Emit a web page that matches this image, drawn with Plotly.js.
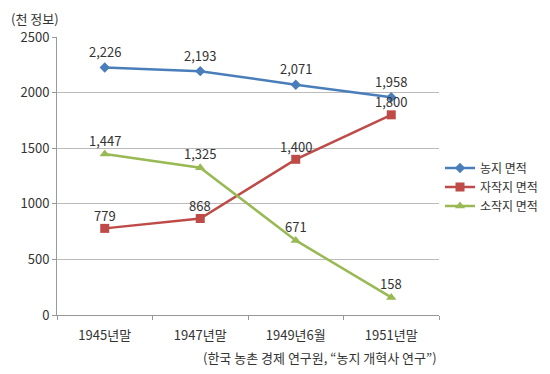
<!DOCTYPE html>
<html><head><meta charset="utf-8">
<script src="https://cdn.plot.ly/plotly-3.0.1.min.js"></script>
<style>html,body{margin:0;padding:0;background:#fff}</style>
</head><body>
<div id="chart" style="width:550px;height:374px"></div>
<script>
const categories = ["1945년말", "1947년말", "1949년6월", "1951년말"];
const farmland = [2226, 2193, 2071, 1958];
const owner = [779, 868, 1400, 1800];
const tenant = [1447, 1325, 671, 158];
const seriesNames = ["농지 면적", "자작지 면적", "소작지 면적"];
const yTicks = [0, 500, 1000, 1500, 2000, 2500];

const FONT = "'Noto Sans CJK KR', 'Noto Sans', sans-serif";
function fmt(v){ return v.toLocaleString('en-US'); }
function mk(y, name, color, symbol, size){
  return {x: categories, y: y, name: name, type: 'scatter', mode: 'lines+markers',
    line: {color: color, width: 2.5}, marker: {color: color, symbol: symbol, size: size}};
}
const data = [
  mk(farmland, seriesNames[0], '#4A7EBB', 'diamond', 8),
  mk(owner, seriesNames[1], '#BE4B48', 'square', 9),
  mk(tenant, seriesNames[2], '#98B954', 'triangle-up', 9)
];
// value labels placed above each point (pixel offset = style)
function labels(y, shift){
  return y.map((v, i) => ({x: categories[i], y: v, xref: 'x', yref: 'y', text: fmt(v),
    showarrow: false, yanchor: 'middle', yshift: shift, font: {size: 13, color: '#333'}}));
}
const annotations = [].concat(
  labels(farmland, 16), labels(owner, 13), labels(tenant, 14),
  [
    {text: '(천 정보)', xref: 'paper', yref: 'paper', x: -0.125, y: 1.025, xanchor: 'left', yanchor: 'bottom',
      showarrow: false, font: {size: 13, color: '#333'}},
    {text: '(한국 농촌 경제 연구원, “농지 개혁사 연구”)', xref: 'paper', yref: 'paper', x: 1.0, y: -0.11,
      xanchor: 'right', yanchor: 'top', showarrow: false, font: {size: 13, color: '#333'}}
  ]
);
const layout = {
  width: 550, height: 374,
  margin: {l: 57, r: 111, t: 37, b: 59, autoexpand: false},
  paper_bgcolor: '#fff', plot_bgcolor: '#fff',
  font: {family: FONT, size: 12, color: '#333'},
  showlegend: true,
  legend: {xref: 'container', yref: 'container', x: 0.8, y: 0.5, xanchor: 'left', yanchor: 'middle',
    font: {size: 12, color: '#333'}, tracegroupgap: 6, bgcolor: 'rgba(0,0,0,0)'},
  xaxis: {type: 'category', range: [-0.5, 3.5], showgrid: false, showline: true, linecolor: '#999', linewidth: 1,
    ticks: 'outside', tickson: 'boundaries', ticklen: 4, tickcolor: '#999', ticklabelstandoff: 8,
    tickfont: {size: 13, color: '#333'}, fixedrange: true},
  yaxis: {range: [0, 2500], tickvals: yTicks, ticktext: yTicks.map(String),
    showgrid: true, gridcolor: '#bbb', gridwidth: 1, zeroline: false,
    showline: true, linecolor: '#999', ticks: 'outside', ticklen: 4, tickcolor: '#999',
    tickfont: {size: 13, color: '#333'}, fixedrange: true},
  annotations: annotations
};
Plotly.newPlot('chart', data, layout, {displayModeBar: false, staticPlot: true});
</script>
</body></html>
